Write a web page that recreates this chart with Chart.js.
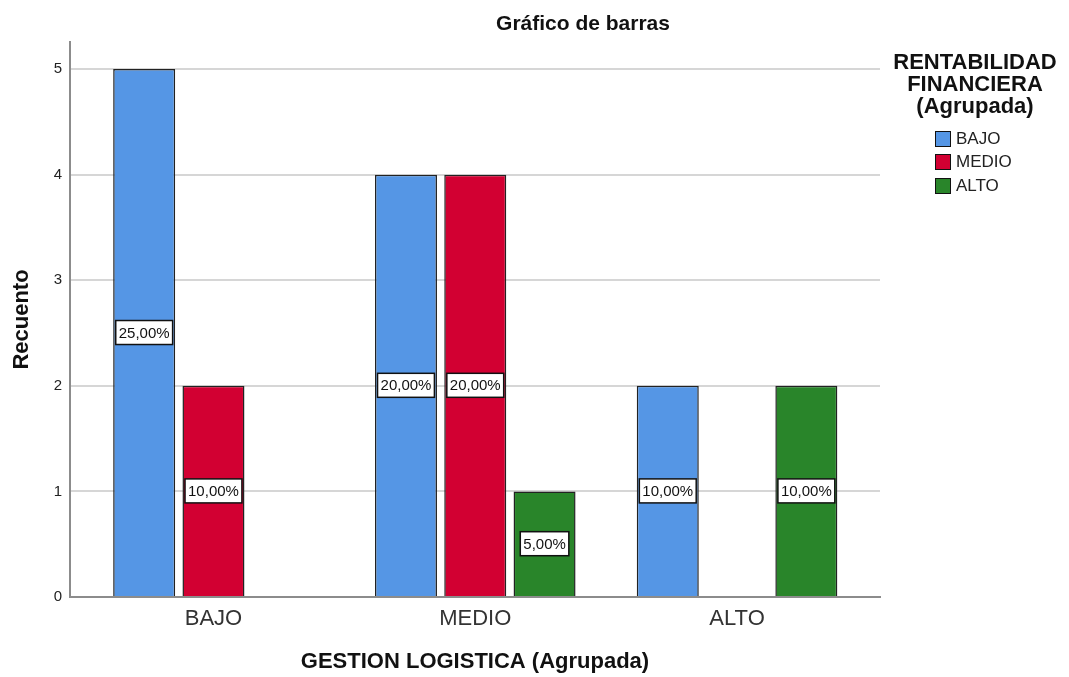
<!DOCTYPE html>
<html>
<head>
<meta charset="utf-8">
<script src="https://cdn.jsdelivr.net/npm/chart.js@4/dist/chart.umd.min.js"></script>
<style>
  body { margin: 0; background: #fff; font-family: "Liberation Sans", Arial, sans-serif; }
  #wrap { position: relative; width: 1069px; height: 677px; }
  #title { position: absolute; left: 483px; width: 200px; top: 11px; text-align: center; font-weight: bold; font-size: 21px; color: #111; }
  #legend { position: absolute; left: 880px; width: 190px; top: 51px; }
  #legend .lt { text-align: center; font-weight: bold; font-size: 22px; line-height: 22px; color: #111; }
  #legend ul { list-style: none; margin: 10px 0 0 55px; padding: 0; }
  #legend li { height: 23.5px; font-size: 17px; color: #222; display: flex; align-items: center; }
  #legend li span { display: inline-block; width: 14px; height: 14px; border: 1.5px solid #111; margin-right: 5px; }
</style>
</head>
<body>
<div id="wrap">
  <canvas id="barChart" width="1069" height="677"></canvas>
  <div id="title">Gráfico de barras</div>
  <div id="legend"></div>
</div>
<script>
// ===============================
// GESTION LOGISTICA x RENTABILIDAD
// ===============================

const categories = ["BAJO", "MEDIO", "ALTO"];
const seriesNames = ["BAJO", "MEDIO", "ALTO"];
const countsBajo = [5, 4, 2];
const countsMedio = [2, 4, 0];
const countsAlto = [0, 1, 2];
const seriesColors = ["#5596e5", "#d20032", "#29852a"];
const yTicks = [0, 1, 2, 3, 4, 5];

const allCounts = [countsBajo, countsMedio, countsAlto];
const total = allCounts.flat().reduce((a, b) => a + b, 0);

function toPoints(arr) {
    return arr.map((v, i) => ({ x: i, y: v }));
}

// labels with white box in the middle of each bar
const barLabels = {
    id: "barLabels",
    afterDatasetsDraw(chart) {
        const ctx = chart.ctx;
        ctx.save();
        ctx.font = "15px 'Liberation Sans', Arial, sans-serif";
        ctx.textAlign = "center";
        ctx.textBaseline = "middle";
        chart.data.datasets.forEach((ds, di) => {
            const meta = chart.getDatasetMeta(di);
            meta.data.forEach((bar, i) => {
                const v = ds.data[i].y;
                if (!v) return;
                const txt = (v / total * 100).toFixed(2).replace(".", ",") + "%";
                const cy = (bar.y + bar.base) / 2;
                const w = ctx.measureText(txt).width + 6;
                const h = 24;
                ctx.fillStyle = "#ffffff";
                ctx.fillRect(bar.x - w / 2, cy - h / 2, w, h);
                ctx.strokeStyle = "#111";
                ctx.lineWidth = 1.5;
                ctx.strokeRect(bar.x - w / 2, cy - h / 2, w, h);
                ctx.fillStyle = "#111";
                ctx.fillText(txt, bar.x, cy + 1);
            });
        });
        ctx.restore();
    }
};

const ctx = document.getElementById("barChart").getContext("2d");

const chart = new Chart(ctx, {
    type: "bar",
    data: {
        datasets: allCounts.map((arr, i) => ({
            label: seriesNames[i],
            data: toPoints(arr),
            backgroundColor: seriesColors[i],
            borderColor: "#222",
            borderWidth: 1.5,
            categoryPercentage: 0.794,
            barPercentage: 0.895
        }))
    },
    options: {
        responsive: false,
        animation: false,
        layout: {
            padding: { top: 42, right: 189, left: 0, bottom: 0 }
        },
        plugins: {
            legend: { display: false },
            tooltip: { enabled: false }
        },
        scales: {
            x: {
                type: "linear",
                offset: false,
                min: -0.548,
                max: 2.546,
                afterBuildTicks: s => { s.ticks = categories.map((c, i) => ({ value: i })); },
                afterFit: s => { s.height = 80; },
                grid: { display: false, drawTicks: false, offset: false },
                border: { color: "#8c8c8c", width: 2 },
                ticks: {
                    padding: 9,
                    color: "#333",
                    font: { size: 22, family: "'Liberation Sans', Arial, sans-serif" },
                    callback: v => categories[v]
                },
                title: {
                    display: true,
                    text: "GESTION LOGISTICA (Agrupada)",
                    color: "#111",
                    padding: { bottom: 2 },
                    font: { size: 22, weight: "bold", family: "'Liberation Sans', Arial, sans-serif" }
                }
            },
            y: {
                min: 0,
                max: 5.256,
                afterBuildTicks: s => { s.ticks = yTicks.map(v => ({ value: v })); },
                afterFit: s => { s.width = 70; },
                grid: { color: "#d6d6d6", lineWidth: 2, drawTicks: false },
                border: { color: "#8c8c8c", width: 2 },
                ticks: {
                    padding: 8,
                    color: "#222",
                    font: { size: 15, family: "'Liberation Sans', Arial, sans-serif" }
                },
                title: {
                    display: true,
                    text: "Recuento",
                    color: "#111",
                    padding: { top: 9 },
                    font: { size: 22, weight: "bold", family: "'Liberation Sans', Arial, sans-serif" }
                }
            }
        }
    },
    plugins: [barLabels]
});

// html legend built from the datasets
const legendEl = document.getElementById("legend");
let html = '<div class="lt">RENTABILIDAD<br>FINANCIERA<br>(Agrupada)</div><ul>';
chart.data.datasets.forEach(ds => {
    html += '<li><span style="background:' + ds.backgroundColor + '"></span>' + ds.label + '</li>';
});
html += "</ul>";
legendEl.innerHTML = html;
</script>
</body>
</html>
